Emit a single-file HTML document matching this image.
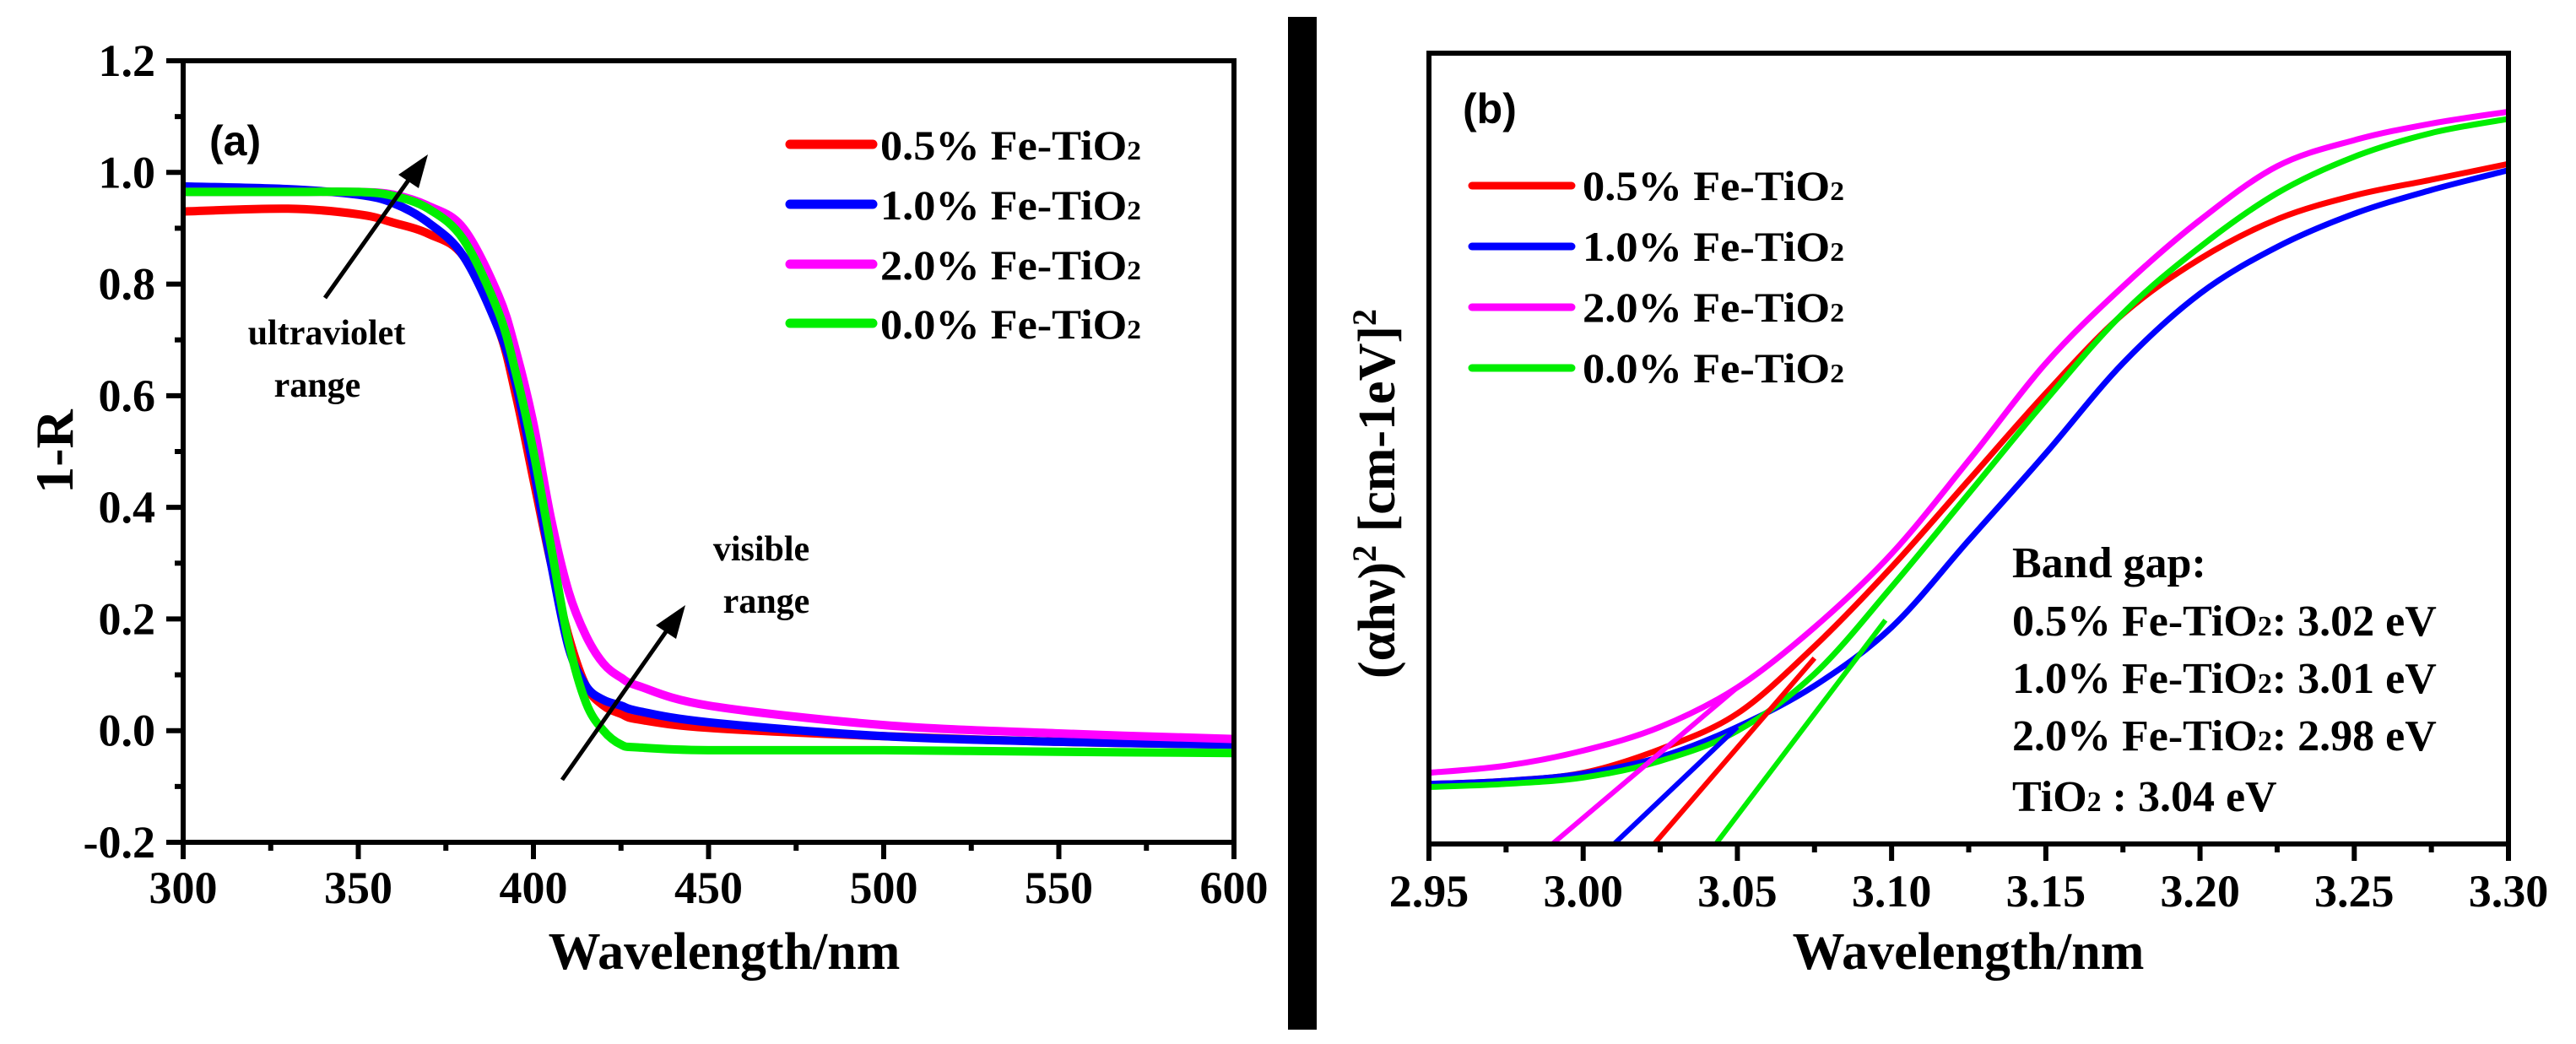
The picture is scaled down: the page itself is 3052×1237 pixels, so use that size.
<!DOCTYPE html>
<html><head><meta charset="utf-8"><style>
html,body{margin:0;padding:0;background:#fff;}
svg{display:block;}
text{font-family:"Liberation Serif",serif;font-weight:bold;fill:#000;}
.sans{font-family:"Liberation Sans",sans-serif;}
</style></head><body>
<svg id="fig" width="3052" height="1237" viewBox="0 0 3052 1237" xmlns="http://www.w3.org/2000/svg">
<rect x="0" y="0" width="3052" height="1237" fill="#fff"/>
<rect x="1526" y="20" width="34" height="1200" fill="#000"/>
<g id="pa"></g>
<g id="pb"></g>
</svg>
<script>
// ---- Panel (a) data ----
const aWave = [300,330,350,360,370,380,390,395,400,405,410,415,420,425,430,450,500,550,600];
const aRed  = [0.93,0.935,0.925,0.91,0.89,0.85,0.72,0.60,0.45,0.30,0.17,0.08,0.045,0.03,0.02,0.005,-0.01,-0.02,-0.025];
const aBlue = [0.975,0.97,0.96,0.945,0.91,0.85,0.72,0.62,0.47,0.30,0.15,0.08,0.055,0.045,0.035,0.015,-0.01,-0.02,-0.025];
const aMag  = [0.965,0.965,0.965,0.96,0.94,0.90,0.78,0.68,0.55,0.38,0.25,0.17,0.12,0.095,0.08,0.045,0.01,-0.005,-0.015];
const aGreen= [0.965,0.965,0.965,0.958,0.935,0.88,0.75,0.64,0.50,0.33,0.16,0.05,0.0,-0.025,-0.03,-0.035,-0.035,-0.038,-0.04];
const aXTicks = [300,350,400,450,500,550,600];
const aYTicks = [-0.2,0.0,0.2,0.4,0.6,0.8,1.0,1.2];
const aYTickLabels = ["-0.2","0.0","0.2","0.4","0.6","0.8","1.0","1.2"];
// ---- Panel (b) data ----
const bEnergy = [2.95,2.975,3.00,3.025,3.05,3.075,3.10,3.125,3.15,3.175,3.20,3.225,3.25,3.275,3.30];
const bRed   = [0.076,0.08,0.09,0.12,0.165,0.25,0.35,0.46,0.57,0.67,0.74,0.79,0.82,0.84,0.86];
const bBlue  = [0.076,0.08,0.089,0.11,0.148,0.20,0.274,0.384,0.494,0.608,0.696,0.755,0.797,0.827,0.852];
const bMag   = [0.09,0.099,0.118,0.148,0.198,0.274,0.367,0.485,0.608,0.705,0.789,0.857,0.89,0.911,0.926];
const bGreen = [0.072,0.076,0.084,0.105,0.143,0.215,0.325,0.443,0.561,0.671,0.755,0.823,0.869,0.899,0.917];
const bGaps    = [3.023,3.01,2.99,3.043];       // tangent x-intercepts: red, blue, magenta, green
const bTanEndX = [3.075,3.05,3.05,3.098];
const bTanEndY = [0.235,0.148,0.198,0.283];
const bXTicks = [2.95,3.00,3.05,3.10,3.15,3.20,3.25,3.30];
const bXTickLabels = ["2.95","3.00","3.05","3.10","3.15","3.20","3.25","3.30"];
const legendLabels = ["0.5% Fe-TiO","1.0% Fe-TiO","2.0% Fe-TiO","0.0% Fe-TiO"];
const colors = ["#ff0000","#0000ff","#ff00ff","#00ee00"];

const NS="http://www.w3.org/2000/svg";
function mk(parent,tag,attrs){const e=document.createElementNS(NS,tag);for(const k in attrs)e.setAttribute(k,attrs[k]);parent.appendChild(e);return e;}
function smooth(pts){let d="M"+pts[0][0]+","+pts[0][1];for(let i=0;i<pts.length-1;i++){const p0=pts[Math.max(i-1,0)],p1=pts[i],p2=pts[i+1],p3=pts[Math.min(i+2,pts.length-1)];const c1x=p1[0]+(p2[0]-p0[0])/6,c1y=p1[1]+(p2[1]-p0[1])/6,c2x=p2[0]-(p3[0]-p1[0])/6,c2y=p2[1]-(p3[1]-p1[1])/6;d+=" C"+c1x.toFixed(1)+","+c1y.toFixed(1)+" "+c2x.toFixed(1)+","+c2y.toFixed(1)+" "+p2[0].toFixed(1)+","+p2[1].toFixed(1);}return d;}

// ===== Panel A =====
const pa=document.getElementById('pa');
const aL=217,aR=1462,aT=72,aB=998;
const ax=v=>aL+(v-300)/300*(aR-aL);
const ay=v=>aB-(v+0.2)/1.4*(aB-aT);
[aRed,aBlue,aMag,aGreen].forEach((s,i)=>{
  const p=mk(pa,'path',{d:smooth(aWave.map((w,j)=>[ax(w),ay(s[j])])),fill:'none',stroke:colors[i],'stroke-width':10,'stroke-linejoin':'round'});
  
  
});
const fa=mk(pa,'rect',{x:aL,y:aT,width:aR-aL,height:aB-aT,fill:'none',stroke:'#000','stroke-width':6});


for(let v=300;v<=600;v+=25){const maj=(v%50===0);const t=mk(pa,'line',{x1:ax(v),x2:ax(v),y1:aB,y2:aB+(maj?20:10),stroke:'#000','stroke-width':6});
  
  }
for(let k=-2;k<=12;k++){const v=k/10;const maj=(k%2===0);const t=mk(pa,'line',{x1:aL,x2:aL-(maj?20:10),y1:ay(v),y2:ay(v),stroke:'#000','stroke-width':6});
  
  }
aXTicks.forEach(v=>{const t=mk(pa,'text',{x:ax(v),y:1070,'font-size':54,'text-anchor':'middle'});t.textContent=v;
  
  });
aYTicks.forEach((v,i)=>{const t=mk(pa,'text',{x:184,y:ay(v)+18,'font-size':54,'text-anchor':'end'});t.textContent=aYTickLabels[i];
  
  });
</script>
<script>
(function(){
const pa=document.getElementById('pa');
pa.insertAdjacentHTML('beforeend',`
<text x="858" y="1148" font-size="62" text-anchor="middle">Wavelength/nm</text>
<text x="0" y="0" font-size="64" text-anchor="middle" transform="translate(86,535) rotate(-90)">1-R</text>
<text class="sans" x="248" y="184" font-size="50">(a)</text>
<text x="387" y="408" font-size="42" text-anchor="middle">ultraviolet</text>
<text x="376" y="470" font-size="42" text-anchor="middle">range</text>
<text x="902" y="664" font-size="42" text-anchor="middle">visible</text>
<text x="908" y="726" font-size="42" text-anchor="middle">range</text>
<line x1="385" y1="353" x2="490" y2="205" stroke="#000" stroke-width="5"/>
<polygon points="507,183 472,207 496,223" fill="#000"/>
<line x1="666" y1="924" x2="795" y2="740" stroke="#000" stroke-width="5"/>
<polygon points="812,717 777,741 801,757" fill="#000"/>
`);
const ly=[171,242,313,383];
ly.forEach((y,i)=>{
  pa.insertAdjacentHTML('beforeend',`<g><line x1="936" y1="${y}" x2="1034" y2="${y}" stroke="${colors[i]}" stroke-width="11" stroke-linecap="round"/><text x="1043" y="${y+18}" font-size="50" textLength="309" lengthAdjust="spacingAndGlyphs">${legendLabels[i]}<tspan font-size="32">2</tspan></text></g>`);
});
})();
// ===== Panel B =====
(function(){
const pb=document.getElementById('pb');
const L=1693,R=2972,T=63,B=1000;
const bx=v=>L+(v-2.95)/0.35*(R-L);
const by=v=>B-v*(B-T);
const cp=mk(pb,'clipPath',{id:'clipb'});mk(cp,'rect',{x:L,y:T,width:R-L,height:B-T});
[bRed,bBlue,bMag,bGreen].forEach((s,i)=>{
  const p=mk(pb,'path',{d:smooth(bEnergy.map((w,j)=>[bx(w),by(s[j])])),fill:'none',stroke:colors[i],'stroke-width':7,'clip-path':'url(#clipb)'});
  
  
});
bGaps.forEach((g,i)=>{
  const l=mk(pb,'line',{x1:bx(g),y1:by(0),x2:bx(bTanEndX[i]),y2:by(bTanEndY[i]),stroke:colors[i],'stroke-width':6});
  
  
});
const f=mk(pb,'rect',{x:L,y:T,width:R-L,height:B-T,fill:'none',stroke:'#000','stroke-width':6});


for(let k=0;k<=14;k++){const v=2.95+k*0.025;const maj=(k%2===0);const t=mk(pb,'line',{x1:bx(v),x2:bx(v),y1:B,y2:B+(maj?20:10),stroke:'#000','stroke-width':6});
  
  }
bXTicks.forEach((v,i)=>{const t=mk(pb,'text',{x:bx(v),y:1074,'font-size':54,'text-anchor':'middle'});t.textContent=bXTickLabels[i];
  
  });
pb.insertAdjacentHTML('beforeend',`
<text x="2332" y="1148" font-size="62" text-anchor="middle">Wavelength/nm</text>
<text x="0" y="0" font-size="62" text-anchor="middle" transform="translate(1652,585) rotate(-90)">(αhν)<tspan font-size="40" dy="-22">2</tspan><tspan dy="22"> [cm-1eV]</tspan><tspan font-size="40" dy="-22">2</tspan></text>
<text class="sans" x="1733" y="146" font-size="50">(b)</text>
<text x="2384" y="684" font-size="52">Band gap:</text>
<text x="2384" y="753" font-size="52">0.5% Fe-TiO<tspan font-size="34">2</tspan>: 3.02 eV</text>
<text x="2384" y="821" font-size="52">1.0% Fe-TiO<tspan font-size="34">2</tspan>: 3.01 eV</text>
<text x="2384" y="889" font-size="52">2.0% Fe-TiO<tspan font-size="34">2</tspan>: 2.98 eV</text>
<text x="2384" y="961" font-size="52">TiO<tspan font-size="34">2</tspan> : 3.04 eV</text>
`);
const ly=[220,292,364,436];
ly.forEach((y,i)=>{
  pb.insertAdjacentHTML('beforeend',`<g><line x1="1744" y1="${y}" x2="1862" y2="${y}" stroke="${colors[i]}" stroke-width="9" stroke-linecap="round"/><text x="1875" y="${y+17}" font-size="50" textLength="310" lengthAdjust="spacingAndGlyphs">${legendLabels[i]}<tspan font-size="32">2</tspan></text></g>`);
});
})();
</script>
</body></html>
